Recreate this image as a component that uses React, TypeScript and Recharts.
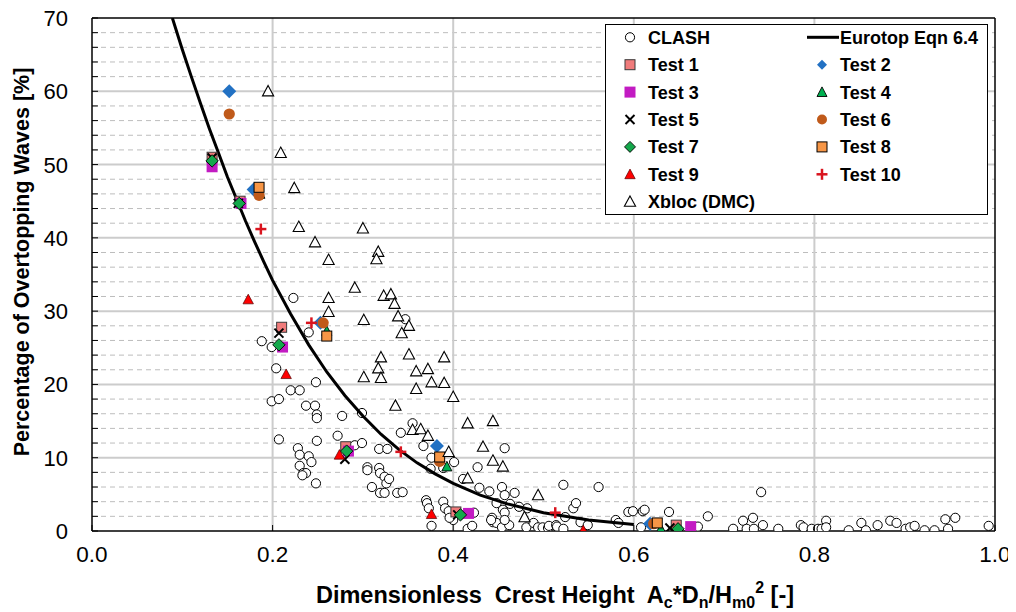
import React from 'react';
import { ScatterChart, Scatter, XAxis, YAxis, CartesianGrid } from 'recharts';

type Pt = { x: number; y: number };

const FONT = '"Liberation Sans", Arial, Helvetica, sans-serif';

const xTicks = [0, 0.2, 0.4, 0.6, 0.8, 1.0];
const xTickLabels = ['0.0', '0.2', '0.4', '0.6', '0.8', '1.0'];
const yTicks = [0, 2, 4, 6, 8, 10, 12, 14, 16, 18, 20, 22, 24, 26, 28, 30, 32, 34, 36, 38, 40, 42, 44, 46, 48, 50, 52, 54, 56, 58, 60, 62, 64, 66, 68, 70];
const yMajorGrid = [10, 20, 30, 40, 50, 60];
const yMinorGrid = [2, 4, 6, 8, 12, 14, 16, 18, 22, 24, 26, 28, 32, 34, 36, 38, 42, 44, 46, 48, 52, 54, 56, 58, 62, 64, 66, 68];
const xMajorGrid = [0.2, 0.4, 0.6, 0.8];

const clash: Pt[] = [
  { x: 0.223, y: 31.8 }, { x: 0.240, y: 27.1 }, { x: 0.188, y: 25.9 }, { x: 0.199, y: 25.1 }, { x: 0.204, y: 22.2 },
  { x: 0.248, y: 20.3 }, { x: 0.220, y: 19.2 }, { x: 0.230, y: 19.2 }, { x: 0.199, y: 17.7 }, { x: 0.207, y: 18.0 },
  { x: 0.237, y: 17.1 }, { x: 0.247, y: 17.1 }, { x: 0.249, y: 15.9 }, { x: 0.249, y: 15.4 }, { x: 0.277, y: 15.7 },
  { x: 0.299, y: 16.1 }, { x: 0.207, y: 12.5 }, { x: 0.249, y: 12.3 }, { x: 0.272, y: 13.0 }, { x: 0.228, y: 11.3 },
  { x: 0.230, y: 10.4 }, { x: 0.240, y: 10.2 }, { x: 0.243, y: 9.4 }, { x: 0.230, y: 8.9 }, { x: 0.234, y: 7.9 },
  { x: 0.237, y: 7.9 }, { x: 0.233, y: 7.6 }, { x: 0.248, y: 6.5 }, { x: 0.291, y: 11.7 }, { x: 0.299, y: 12.0 },
  { x: 0.318, y: 11.2 }, { x: 0.327, y: 11.2 }, { x: 0.305, y: 8.7 }, { x: 0.305, y: 8.3 }, { x: 0.318, y: 8.6 },
  { x: 0.319, y: 7.9 }, { x: 0.324, y: 7.4 }, { x: 0.326, y: 6.5 }, { x: 0.310, y: 6.0 }, { x: 0.319, y: 5.2 },
  { x: 0.324, y: 5.2 }, { x: 0.329, y: 7.1 }, { x: 0.338, y: 5.2 }, { x: 0.342, y: 13.4 }, { x: 0.344, y: 5.3 },
  { x: 0.347, y: 28.9 }, { x: 0.355, y: 14.7 }, { x: 0.367, y: 11.6 }, { x: 0.376, y: 10.0 }, { x: 0.401, y: 9.4 },
  { x: 0.375, y: 8.5 }, { x: 0.389, y: 8.6 }, { x: 0.427, y: 8.7 }, { x: 0.457, y: 11.3 }, { x: 0.411, y: 7.1 },
  { x: 0.429, y: 5.9 }, { x: 0.440, y: 5.4 }, { x: 0.454, y: 6.0 }, { x: 0.457, y: 4.9 }, { x: 0.468, y: 5.2 },
  { x: 0.463, y: 3.7 }, { x: 0.473, y: 3.3 }, { x: 0.482, y: 3.1 }, { x: 0.448, y: 3.8 }, { x: 0.455, y: 2.9 },
  { x: 0.522, y: 6.3 }, { x: 0.561, y: 6.0 }, { x: 0.370, y: 4.2 }, { x: 0.371, y: 3.8 }, { x: 0.373, y: 3.1 },
  { x: 0.376, y: 0.7 }, { x: 0.389, y: 4.0 }, { x: 0.391, y: 3.1 }, { x: 0.395, y: 2.7 }, { x: 0.400, y: 1.5 },
  { x: 0.396, y: 1.8 }, { x: 0.416, y: 0.3 }, { x: 0.421, y: 0.7 }, { x: 0.423, y: 2.5 }, { x: 0.443, y: 1.8 },
  { x: 0.444, y: 1.2 }, { x: 0.448, y: 1.1 }, { x: 0.454, y: 0.5 }, { x: 0.462, y: 0.8 }, { x: 0.457, y: 2.5 },
  { x: 0.442, y: 1.5 }, { x: 0.457, y: 1.5 }, { x: 0.481, y: 0.5 }, { x: 0.489, y: 1.1 }, { x: 0.494, y: 0.5 },
  { x: 0.499, y: 0.5 }, { x: 0.505, y: 0.4 }, { x: 0.506, y: 0.7 }, { x: 0.514, y: 0.8 }, { x: 0.515, y: 0.6 },
  { x: 0.522, y: 0.3 }, { x: 0.524, y: 1.9 }, { x: 0.533, y: 3.1 }, { x: 0.536, y: 3.8 }, { x: 0.541, y: 1.2 },
  { x: 0.549, y: 0.8 }, { x: 0.580, y: 1.5 }, { x: 0.583, y: 1.1 }, { x: 0.594, y: 2.6 }, { x: 0.599, y: 2.7 },
  { x: 0.610, y: 2.7 }, { x: 0.612, y: 2.9 }, { x: 0.608, y: 0.5 }, { x: 0.741, y: 5.3 }, { x: 0.639, y: 2.6 },
  { x: 0.671, y: 0.6 }, { x: 0.682, y: 2.0 }, { x: 0.710, y: 0.3 }, { x: 0.721, y: 1.4 }, { x: 0.725, y: 0.3 },
  { x: 0.733, y: 0.3 }, { x: 0.732, y: 1.8 }, { x: 0.743, y: 0.8 }, { x: 0.760, y: 0.3 }, { x: 0.785, y: 0.8 },
  { x: 0.788, y: 0.5 }, { x: 0.797, y: 0.3 }, { x: 0.804, y: 0.3 }, { x: 0.808, y: 0.3 }, { x: 0.813, y: 1.4 },
  { x: 0.813, y: 0.5 }, { x: 0.838, y: 0.1 }, { x: 0.852, y: 1.1 }, { x: 0.857, y: 0.1 }, { x: 0.870, y: 0.8 },
  { x: 0.884, y: 1.4 }, { x: 0.891, y: 1.1 }, { x: 0.901, y: 0.3 }, { x: 0.906, y: 0.5 }, { x: 0.911, y: 0.7 },
  { x: 0.922, y: 0.1 }, { x: 0.933, y: 0.1 }, { x: 0.945, y: 1.6 }, { x: 0.948, y: 0.3 }, { x: 0.956, y: 1.8 },
  { x: 0.993, y: 0.7 },
];

const xbloc: Pt[] = [
  { x: 0.195, y: 60.0 }, { x: 0.209, y: 51.6 }, { x: 0.224, y: 46.8 }, { x: 0.229, y: 41.5 }, { x: 0.300, y: 41.3 },
  { x: 0.247, y: 39.4 }, { x: 0.262, y: 37.0 }, { x: 0.317, y: 38.1 }, { x: 0.315, y: 37.1 }, { x: 0.291, y: 33.2 },
  { x: 0.262, y: 31.8 }, { x: 0.262, y: 29.9 }, { x: 0.301, y: 28.8 }, { x: 0.323, y: 32.1 }, { x: 0.331, y: 32.3 },
  { x: 0.335, y: 31.0 }, { x: 0.339, y: 29.3 }, { x: 0.351, y: 28.0 }, { x: 0.343, y: 27.0 }, { x: 0.320, y: 23.7 },
  { x: 0.351, y: 24.1 }, { x: 0.390, y: 23.7 }, { x: 0.317, y: 22.2 }, { x: 0.359, y: 21.8 }, { x: 0.372, y: 22.1 },
  { x: 0.301, y: 21.0 }, { x: 0.320, y: 20.9 }, { x: 0.376, y: 20.3 }, { x: 0.390, y: 20.2 }, { x: 0.359, y: 19.4 },
  { x: 0.400, y: 18.3 }, { x: 0.336, y: 17.1 }, { x: 0.416, y: 14.7 }, { x: 0.444, y: 15.0 }, { x: 0.355, y: 13.8 },
  { x: 0.364, y: 13.9 }, { x: 0.372, y: 13.0 }, { x: 0.433, y: 11.5 }, { x: 0.395, y: 10.8 }, { x: 0.444, y: 9.6 },
  { x: 0.455, y: 8.8 }, { x: 0.416, y: 7.2 }, { x: 0.494, y: 4.9 }, { x: 0.479, y: 1.9 },
];

const eurotopX = [0.089, 0.10, 0.11, 0.12, 0.13, 0.14, 0.15, 0.16, 0.17, 0.18, 0.19, 0.20, 0.22, 0.24, 0.26, 0.28, 0.30, 0.32, 0.34, 0.36, 0.38, 0.40, 0.43, 0.46, 0.50, 0.55, 0.60];
const eurotopY = [70.0, 65.7, 62.0, 58.4, 54.9, 51.6, 48.3, 45.3, 42.3, 39.5, 36.8, 34.2, 29.6, 25.4, 21.7, 18.5, 15.7, 13.2, 11.1, 9.3, 7.8, 6.5, 4.9, 3.7, 2.5, 1.5, 0.9];
const eurotop: Pt[] = eurotopX.map((x, i) => ({ x, y: eurotopY[i] }));

const test1: Pt[] = [{ x: 0.133, y: 51.0 }, { x: 0.164, y: 45.0 }, { x: 0.210, y: 27.8 }, { x: 0.281, y: 11.5 }, { x: 0.403, y: 2.6 }, { x: 0.647, y: 0.8 }];
const test2: Pt[] = [{ x: 0.152, y: 60.0 }, { x: 0.179, y: 46.6 }, { x: 0.253, y: 28.4 }, { x: 0.382, y: 11.6 }, { x: 0.618, y: 1.0 }];
const test3: Pt[] = [{ x: 0.133, y: 49.7 }, { x: 0.165, y: 44.7 }, { x: 0.211, y: 25.1 }, { x: 0.284, y: 10.9 }, { x: 0.417, y: 2.4 }, { x: 0.663, y: 0.6 }];
const test4: Pt[] = [{ x: 0.186, y: 46.0 }, { x: 0.260, y: 27.3 }, { x: 0.393, y: 8.8 }, { x: 0.630, y: 0.3 }];
const test5: Pt[] = [{ x: 0.133, y: 50.9 }, { x: 0.162, y: 44.7 }, { x: 0.207, y: 27.0 }, { x: 0.280, y: 9.8 }, { x: 0.405, y: 2.2 }, { x: 0.640, y: 0.4 }];
const test6: Pt[] = [{ x: 0.152, y: 56.9 }, { x: 0.185, y: 45.8 }, { x: 0.256, y: 28.4 }, { x: 0.385, y: 9.5 }, { x: 0.622, y: 1.0 }];
const test7: Pt[] = [{ x: 0.133, y: 50.5 }, { x: 0.163, y: 44.7 }, { x: 0.207, y: 25.4 }, { x: 0.282, y: 10.9 }, { x: 0.408, y: 2.2 }, { x: 0.649, y: 0.3 }];
const test8: Pt[] = [{ x: 0.185, y: 46.9 }, { x: 0.260, y: 26.6 }, { x: 0.385, y: 10.1 }, { x: 0.626, y: 1.1 }];
const test9: Pt[] = [{ x: 0.173, y: 31.6 }, { x: 0.215, y: 21.4 }, { x: 0.274, y: 10.4 }, { x: 0.376, y: 2.3 }, { x: 0.544, y: 0.1 }];
const test10: Pt[] = [{ x: 0.187, y: 41.2 }, { x: 0.243, y: 28.4 }, { x: 0.342, y: 10.8 }, { x: 0.513, y: 2.5 }];

type Kind = 'clash' | 'xbloc' | 't1' | 't2' | 't3' | 't4' | 't5' | 't6' | 't7' | 't8' | 't9' | 't10';

function drawMarker(kind: Kind, cx: number, cy: number, legend = false): React.ReactElement {
  switch (kind) {
    case 'clash':
      return <circle cx={cx} cy={cy} r={4.6} fill="#fff" stroke="#000" strokeWidth={1} />;
    case 'xbloc': {
      const w = 5.6, h = 5.2;
      return <path d={`M${cx} ${cy - h - 0.6}L${cx + w} ${cy + h - 0.6}L${cx - w} ${cy + h - 0.6}Z`} fill="#fff" stroke="#000" strokeWidth={1.1} />;
    }
    case 't1':
      return <rect x={cx - 5} y={cy - 5} width={10} height={10} fill="#F07B7B" stroke="#3a3a3a" strokeWidth={1} />;
    case 't2': {
      const s = legend ? 5 : 7;
      return <path d={`M${cx} ${cy - s}L${cx + s} ${cy}L${cx} ${cy + s}L${cx - s} ${cy}Z`} fill="#2271C3" />;
    }
    case 't3':
      return <rect x={cx - 5.5} y={cy - 5.5} width={11} height={11} fill="#C21BC2" />;
    case 't4': {
      const w = 5, h = 4.8;
      return <path d={`M${cx} ${cy - h - 0.4}L${cx + w} ${cy + h - 0.4}L${cx - w} ${cy + h - 0.4}Z`} fill="#00B050" stroke="#000" strokeWidth={0.9} />;
    }
    case 't5': {
      const s = 4.5;
      return (
        <g stroke="#000" strokeWidth={2}>
          <line x1={cx - s} y1={cy - s} x2={cx + s} y2={cy + s} />
          <line x1={cx - s} y1={cy + s} x2={cx + s} y2={cy - s} />
        </g>
      );
    }
    case 't6':
      return <circle cx={cx} cy={cy} r={legend ? 5 : 5.6} fill="#C05A1A" />;
    case 't7': {
      const s = legend ? 5.5 : 6.2;
      return <path d={`M${cx} ${cy - s}L${cx + s} ${cy}L${cx} ${cy + s}L${cx - s} ${cy}Z`} fill="#14A84B" stroke="#000" strokeWidth={0.9} />;
    }
    case 't8':
      return <rect x={cx - 5} y={cy - 5} width={10} height={10} fill="#F79646" stroke="#000" strokeWidth={1} />;
    case 't9': {
      const w = 5.2, h = 4.8;
      return <path d={`M${cx} ${cy - h - 0.4}L${cx + w} ${cy + h - 0.4}L${cx - w} ${cy + h - 0.4}Z`} fill="#FF0000" stroke="#500" strokeWidth={0.7} />;
    }
    case 't10': {
      const s = 5.5;
      return (
        <g stroke="#D9141E" strokeWidth={2.5}>
          <line x1={cx - s} y1={cy} x2={cx + s} y2={cy} />
          <line x1={cx} y1={cy - s} x2={cx} y2={cy + s} />
        </g>
      );
    }
  }
  return <g />;
}

const shapeOf = (kind: Kind) => (p: any) => drawMarker(kind, p.cx, p.cy);

const PLOT_LEFT = 84;
const PLOT_BOTTOM = 523;

const YTick = (props: any) => {
  const { y, payload } = props;
  const v = payload.value as number;
  return (
    <g>
      <line x1={PLOT_LEFT} x2={PLOT_LEFT + 6} y1={y} y2={y} stroke="#000" strokeWidth={1} />
      {v % 10 === 0 ? (
        <text x={60} y={y + 8} textAnchor="end" fontSize={22} fontFamily={FONT} fill="#000">{v}</text>
      ) : null}
    </g>
  );
};

const XTick = (props: any) => {
  const { x, payload } = props;
  const i = xTicks.indexOf(payload.value);
  return (
    <g>
      <line x1={x} x2={x} y1={PLOT_BOTTOM} y2={PLOT_BOTTOM - 6} stroke="#000" strokeWidth={1} />
      <text x={x} y={554} textAnchor="middle" fontSize={22.5} fontFamily={FONT} fill="#000">{i >= 0 ? xTickLabels[i] : payload.value}</text>
    </g>
  );
};

const legendRows: [Kind | null, string, Kind | 'line' | null, string][] = [
  ['clash', 'CLASH', 'line', 'Eurotop Eqn 6.4'],
  ['t1', 'Test 1', 't2', 'Test 2'],
  ['t3', 'Test 3', 't4', 'Test 4'],
  ['t5', 'Test 5', 't6', 'Test 6'],
  ['t7', 'Test 7', 't8', 'Test 8'],
  ['t9', 'Test 9', 't10', 'Test 10'],
  ['xbloc', 'Xbloc (DMC)', null, ''],
];

const LegendBox = () => {
  const rowH = 27.4;
  const first = 13.3;
  return (
    <div style={{ position: 'absolute', left: 597, top: 16, width: 383, height: 191, border: '1px solid #000', background: '#fff', boxSizing: 'border-box', fontFamily: FONT }}>
      <svg width={383} height={191} style={{ position: 'absolute', left: -1, top: -1 }}>
        {legendRows.map((r, i) => {
          const cy = first + i * rowH;
          return (
            <g key={i}>
              {r[0] ? drawMarker(r[0], 25, cy, true) : null}
              {r[0] ? <text x={43} y={cy + 6.5} fontSize={18} fontWeight="bold" fill="#000" fontFamily={FONT}>{r[1]}</text> : null}
              {r[2] === 'line' ? <line x1={202} x2={234} y1={cy} y2={cy} stroke="#000" strokeWidth={3} /> : r[2] ? drawMarker(r[2], 217, cy, true) : null}
              {r[2] ? <text x={235} y={cy + 6.5} fontSize={18} fontWeight="bold" fill="#000" fontFamily={FONT}>{r[3]}</text> : null}
            </g>
          );
        })}
      </svg>
    </div>
  );
};

const Titles = () => (
  <svg width={1008} height={604} style={{ position: 'absolute', left: 0, top: 0, pointerEvents: 'none', overflow: 'visible' }}>
    <text x={547} y={595} textAnchor="middle" fontSize={23.5} fontWeight="bold" fontFamily={FONT} fill="#000" xmlSpace="preserve" style={{ whiteSpace: 'pre' }}>
      <tspan>Dimensionless  Crest Height  A</tspan>
      <tspan fontSize={16} dy={5}>c</tspan>
      <tspan dy={-5}>*D</tspan>
      <tspan fontSize={16} dy={5}>n</tspan>
      <tspan dy={-5}>/H</tspan>
      <tspan fontSize={16} dy={5}>m0</tspan>
      <tspan fontSize={16} dy={-15}>2</tspan>
      <tspan dy={10}> [-]</tspan>
    </text>
    <text x={21} y={254} transform="rotate(-90 21 254)" textAnchor="middle" fontSize={21.5} fontWeight="bold" fontFamily={FONT} fill="#000">
      Percentage of Overtopping Waves [%]
    </text>
  </svg>
);

export default function App() {
  const axisLine = { stroke: '#000', strokeWidth: 1.5 };
  return (
    <div style={{ position: 'relative', width: 1008, height: 604, fontFamily: FONT }}>
      <style>{'.recharts-surface{overflow:visible}'}</style>
      <ScatterChart width={1008} height={604} margin={{ top: 9, right: 20, bottom: 31, left: 24 }}>
        <CartesianGrid vertical={false} horizontalValues={yMinorGrid} stroke="#bdbdbd" strokeDasharray="5 4" strokeWidth={1} />
        <CartesianGrid horizontalValues={yMajorGrid} verticalValues={xMajorGrid} stroke="#cccccc" strokeWidth={2} />
        <XAxis type="number" dataKey="x" domain={[0, 1]} ticks={xTicks} interval={0} height={50} tick={XTick} tickLine={false} axisLine={axisLine} allowDataOverflow />
        <YAxis type="number" dataKey="y" domain={[0, 70]} ticks={yTicks} interval={0} width={60} tick={YTick} tickLine={false} axisLine={axisLine} allowDataOverflow />
        <XAxis xAxisId="top" orientation="top" type="number" dataKey="x" domain={[0, 1]} height={1} tick={false} tickLine={false} axisLine={axisLine} />
        <YAxis yAxisId="right" orientation="right" type="number" dataKey="y" domain={[0, 70]} width={1} tick={false} tickLine={false} axisLine={axisLine} />
        <Scatter name="CLASH" data={clash} shape={shapeOf('clash')} isAnimationActive={false} />
        <Scatter name="Eurotop Eqn 6.4" data={eurotop} line={{ stroke: '#000', strokeWidth: 3 }} lineType="joint" shape={() => <g />} isAnimationActive={false} />
        <Scatter name="Test 1" data={test1} shape={shapeOf('t1')} isAnimationActive={false} />
        <Scatter name="Test 2" data={test2} shape={shapeOf('t2')} isAnimationActive={false} />
        <Scatter name="Test 3" data={test3} shape={shapeOf('t3')} isAnimationActive={false} />
        <Scatter name="Test 4" data={test4} shape={shapeOf('t4')} isAnimationActive={false} />
        <Scatter name="Test 5" data={test5} shape={shapeOf('t5')} isAnimationActive={false} />
        <Scatter name="Test 6" data={test6} shape={shapeOf('t6')} isAnimationActive={false} />
        <Scatter name="Test 7" data={test7} shape={shapeOf('t7')} isAnimationActive={false} />
        <Scatter name="Test 8" data={test8} shape={shapeOf('t8')} isAnimationActive={false} />
        <Scatter name="Test 9" data={test9} shape={shapeOf('t9')} isAnimationActive={false} />
        <Scatter name="Test 10" data={test10} shape={shapeOf('t10')} isAnimationActive={false} />
        <Scatter name="Xbloc (DMC)" data={xbloc} shape={shapeOf('xbloc')} isAnimationActive={false} />
      </ScatterChart>
      <Titles />
      <LegendBox />
    </div>
  );
}
